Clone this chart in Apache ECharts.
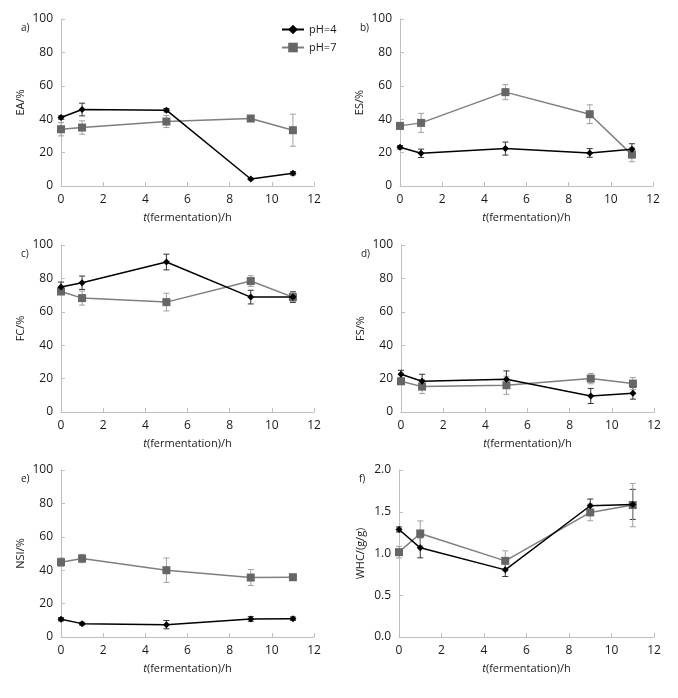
<!DOCTYPE html>
<html>
<head>
<meta charset="utf-8">
<script src="https://cdn.jsdelivr.net/npm/echarts@6/dist/echarts.min.js"></script>
<style>html,body{margin:0;padding:0;background:#fff;}#c{width:678px;height:698px;}</style>
</head>
<body>
<div id="c"></div>
<script>
const times = [0, 1, 5, 9, 11];
const xTicks = [0, 2, 4, 6, 8, 10, 12];
const seriesNames = ['pH=4', 'pH=7'];
const panelLabels = ['a)', 'b)', 'c)', 'd)', 'e)', 'f)'];
const yTitles = ['EA/%', 'ES/%', 'FC/%', 'FS/%', 'NSI/%', 'WHC/(g/g)'];

const EA_pH4 = [41.0, 45.8, 45.4, 4.2, 7.6];
const EA_pH4_err = [1.0, 3.8, 1.0, 0.5, 1.0];
const EA_pH7 = [34.0, 35.0, 38.6, 40.4, 33.4];
const EA_pH7_err = [4.0, 4.0, 3.6, 1.0, 9.6];

const ES_pH4 = [23.2, 19.6, 22.4, 19.8, 22.0];
const ES_pH4_err = [1.0, 2.5, 3.9, 2.6, 3.3];
const ES_pH7 = [36.0, 37.8, 56.2, 43.0, 18.8];
const ES_pH7_err = [2.0, 5.7, 4.5, 5.6, 4.3];

const FC_pH4 = [74.8, 77.4, 89.8, 68.8, 68.8];
const FC_pH4_err = [3.0, 4.0, 4.7, 4.1, 3.2];
const FC_pH7 = [72.2, 68.2, 65.8, 78.4, 68.8];
const FC_pH7_err = [2.0, 4.2, 5.3, 3.2, 2.7];

const FS_pH4 = [22.6, 18.4, 19.6, 9.6, 11.2];
const FS_pH4_err = [2.4, 4.2, 5.0, 4.5, 3.5];
const FS_pH7 = [18.4, 15.2, 16.0, 20.0, 17.0];
const FS_pH7_err = [2.0, 4.2, 5.4, 3.1, 3.6];

const NSI_pH4 = [10.6, 8.0, 7.4, 10.8, 11.0];
const NSI_pH4_err = [1.0, 0.8, 2.5, 1.4, 1.0];
const NSI_pH7 = [44.8, 47.0, 40.0, 35.6, 35.8];
const NSI_pH7_err = [2.5, 2.5, 7.3, 4.8, 1.0];

const WHC_pH4 = [1.288, 1.068, 0.804, 1.572, 1.588];
const WHC_pH4_err = [0.03, 0.12, 0.08, 0.08, 0.18];
const WHC_pH7 = [1.016, 1.24, 0.912, 1.492, 1.58];
const WHC_pH7_err = [0.07, 0.15, 0.12, 0.10, 0.26];

const panels = [
  [EA_pH4, EA_pH4_err, EA_pH7, EA_pH7_err],
  [ES_pH4, ES_pH4_err, ES_pH7, ES_pH7_err],
  [FC_pH4, FC_pH4_err, FC_pH7, FC_pH7_err],
  [FS_pH4, FS_pH4_err, FS_pH7, FS_pH7_err],
  [NSI_pH4, NSI_pH4_err, NSI_pH7, NSI_pH7_err],
  [WHC_pH4, WHC_pH4_err, WHC_pH7, WHC_pH7_err]
];
const yRanges = [[0,100,20],[0,100,20],[0,100,20],[0,100,20],[0,100,20],[0,2,0.5]];

const grids = [
  {left: 61, top: 19, width: 253, height: 167},
  {left: 400, top: 19, width: 253, height: 167},
  {left: 61, top: 245, width: 253, height: 167},
  {left: 401, top: 245, width: 253, height: 167},
  {left: 61, top: 470, width: 253, height: 167},
  {left: 399, top: 470, width: 255, height: 167}
];

const FONT = '"Open Sans", "Liberation Sans", sans-serif';
const axisColor = '#bfbfbf';
const textColor = '#1a1a1a';
const colors = ['#000000', '#7f7f7f'];
const errColors = ['#333333', '#a0a0a0'];

const xAxes = [], yAxes = [], series = [], titles = [];
grids.forEach((g, i) => {
  xAxes.push({
    type: 'value', gridIndex: i, min: 0, max: 12, interval: 2,
    axisLine: {lineStyle: {color: axisColor, width: 1}},
    axisTick: {show: true, inside: true, length: 4, lineStyle: {color: axisColor}},
    splitLine: {show: false},
    axisLabel: {color: textColor, fontFamily: FONT, fontSize: 12, margin: 8},
    name: '{i|t}(fermentation)/h', nameLocation: 'middle', nameGap: 26,
    nameTextStyle: {color: textColor, fontFamily: FONT, fontSize: 11,
      rich: {i: {fontStyle: 'italic', fontFamily: FONT, fontSize: 11, color: textColor}}}
  });
  const yr = yRanges[i];
  yAxes.push({
    type: 'value', gridIndex: i, min: yr[0], max: yr[1], interval: yr[2],
    axisLine: {show: true, lineStyle: {color: axisColor, width: 1}},
    axisTick: {show: true, inside: true, length: 4, lineStyle: {color: axisColor}},
    splitLine: {show: false},
    axisLabel: {color: textColor, fontFamily: FONT, fontSize: 12, margin: 8,
      formatter: i === 5 ? (v => v.toFixed(1)) : undefined},
    name: yTitles[i], nameLocation: 'middle', nameGap: i === 5 ? 33 : 35, nameRotate: 90,
    nameTextStyle: {color: textColor, fontFamily: FONT, fontSize: 11}
  });
  titles.push({
    text: panelLabels[i], left: g.left - 45, top: g.top - 1,
    textStyle: {color: textColor, fontFamily: FONT, fontSize: 10, fontWeight: 'normal'}
  });
  const p = panels[i];
  [0, 1].forEach(s => {
    const vals = p[s * 2], errs = p[s * 2 + 1];
    series.push({
      name: 'err' + s + '_' + i, type: 'custom', xAxisIndex: i, yAxisIndex: i,
      data: times.map((t, k) => [t, vals[k] - errs[k], vals[k] + errs[k]]),
      z: 1, silent: true,
      renderItem: function (params, api) {
        const lo = api.coord([api.value(0), api.value(1)]);
        const hi = api.coord([api.value(0), api.value(2)]);
        const w = 3;
        const st = {stroke: errColors[s], lineWidth: 1};
        return {type: 'group', children: [
          {type: 'line', shape: {x1: lo[0], y1: lo[1], x2: hi[0], y2: hi[1]}, style: st},
          {type: 'line', shape: {x1: lo[0]-w, y1: lo[1], x2: lo[0]+w, y2: lo[1]}, style: st},
          {type: 'line', shape: {x1: hi[0]-w, y1: hi[1], x2: hi[0]+w, y2: hi[1]}, style: st}
        ]};
      }
    });
  });
  [0, 1].forEach(s => {
    const vals = p[s * 2];
    series.push({
      name: seriesNames[s], type: 'line', xAxisIndex: i, yAxisIndex: i,
      data: times.map((t, k) => [t, vals[k]]),
      symbol: s === 0 ? 'diamond' : 'rect',
      symbolSize: s === 0 ? 7 : 8,
      itemStyle: {color: s === 0 ? '#000' : '#666'},
      lineStyle: {color: colors[s], width: 1.5},
      z: 3 - s, animation: false
    });
  });
});

const chart = echarts.init(document.getElementById('c'), null, {renderer: 'canvas'});
chart.setOption({
  backgroundColor: '#fff',
  animation: false,
  title: titles,
  legend: {
    data: seriesNames, orient: 'vertical', left: 276, top: 19,
    itemWidth: 22, itemHeight: 12, itemGap: 7,
    textStyle: {color: textColor, fontFamily: FONT, fontSize: 11}
  },
  grid: grids,
  xAxis: xAxes,
  yAxis: yAxes,
  series: series
});
</script>
</body>
</html>
